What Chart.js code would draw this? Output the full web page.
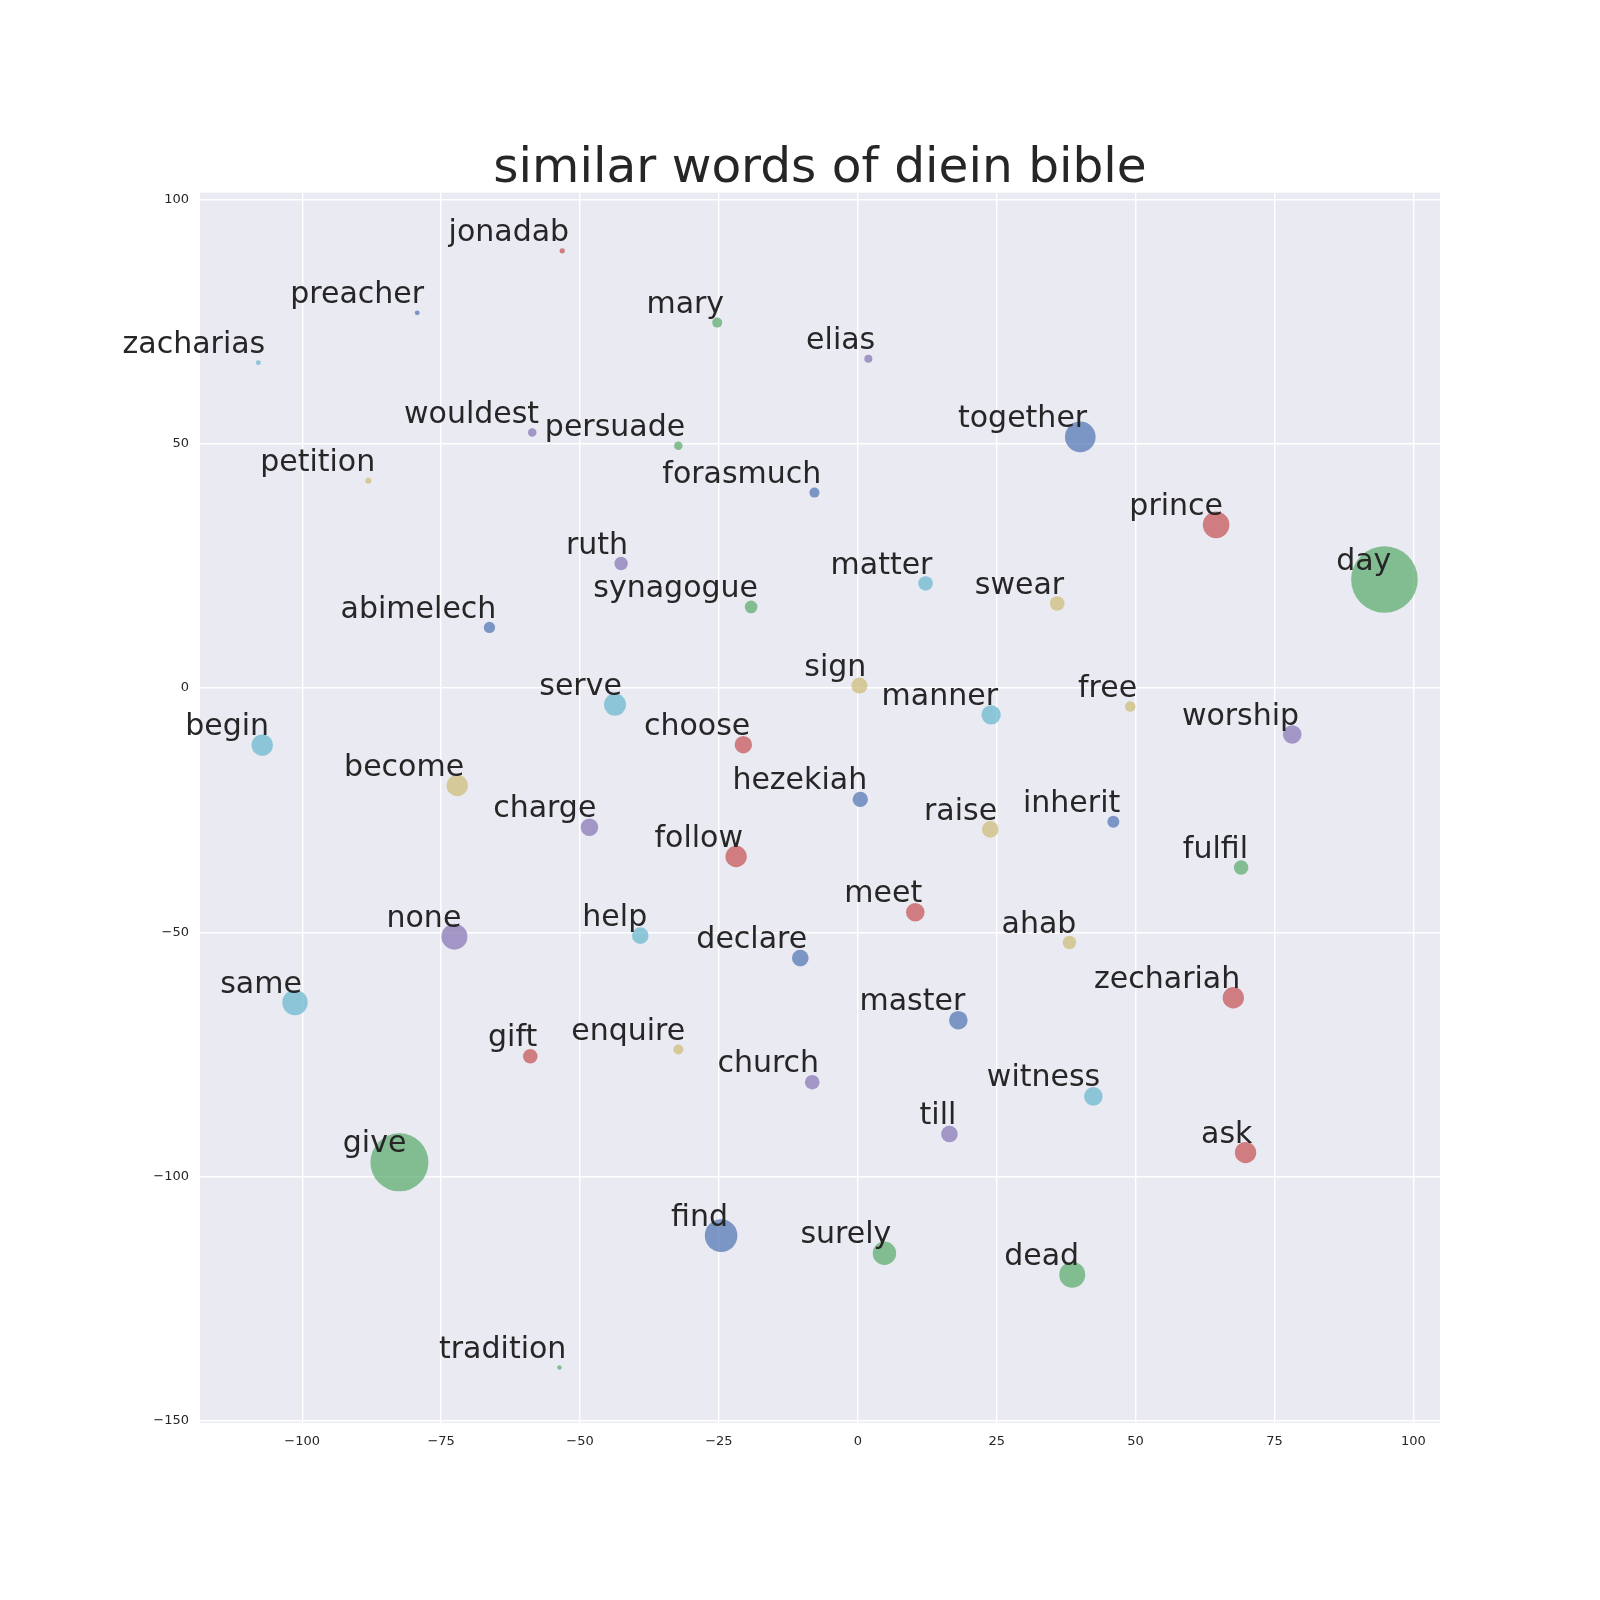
<!DOCTYPE html>
<html><head><meta charset="utf-8">
<script src="https://cdn.jsdelivr.net/npm/chart.js@4.4.1/dist/chart.umd.min.js"></script>
<style>html,body{margin:0;padding:0;background:#fff}#wrap{width:1600px;height:1600px}</style>
</head><body><div id="wrap"><canvas id="c" width="1600" height="1600"></canvas></div>
<script>
const words = [
  'preacher','mary','jonadab','elias','petition','zacharias',
  'forasmuch','persuade','prince','wouldest','swear','matter',
  'abimelech','synagogue','choose','ruth','sign','serve',
  'together','day','follow','worship','free','manner',
  'hezekiah','fulfil','meet','charge','become','begin',
  'inherit','give','zechariah','none','raise','help',
  'declare','surely','gift','church','ahab','same',
  'master','dead','ask','till','enquire','witness',
  'find','tradition'
];
const xValues = [
  -79.3,-25.3,-53.2,1.9,-88.1,-107.9,
  -7.8,-32.3,64.5,-58.6,35.9,12.2,
  -66.3,-19.2,-20.6,-42.6,0.3,-43.7,
  40.05,94.8,-21.9,78.2,49.05,24.0,
  0.45,69.0,10.35,-48.3,-72.1,-107.2,
  46.0,-82.5,67.6,-72.6,23.85,-39.15,
  -10.35,4.8,-58.95,-8.2,38.1,-101.3,
  18.1,38.6,69.8,16.5,-32.3,42.4,
  -24.6,-53.7
];
const yValues = [
  76.8,74.8,89.5,67.4,42.4,66.6,
  40.0,49.6,33.4,52.3,17.3,21.4,
  12.4,16.6,-11.6,25.5,0.5,-3.4,
  51.4,22.2,-34.5,-9.5,-3.8,-5.5,
  -22.8,-36.75,-45.9,-28.5,-19.95,-11.7,
  -27.4,-97.1,-63.4,-50.9,-28.95,-50.7,
  -55.3,-115.7,-75.4,-80.7,-52.1,-64.4,
  -68.0,-120.1,-95.1,-91.3,-74.0,-83.6,
  -112.1,-139.1
];
const counts = [
  6,25,7,16,9,6,
  25,18,177,18,53,53,
  32,40,76,45,64,121,
  234,1109,114,86,28,94,
  59,53,86,76,114,114,
  36,841,114,169,69,69,
  69,137,53,53,45,161,
  86,169,114,69,25,86,
  266,5
];
const xTicks = [-100,-75,-50,-25,0,25,50,75,100];
const yTicks = [-150,-100,-50,0,50,100];
const chartTitle = 'similar words of diein bible';

const palette = ['rgba(76,114,176,0.7)','rgba(85,168,104,0.7)','rgba(196,78,82,0.7)',
                 'rgba(129,114,178,0.7)','rgba(204,185,116,0.7)','rgba(100,181,205,0.7)'];
const FONT = '"DejaVu Sans", "Liberation Sans", sans-serif';
const fmt = v => v < 0 ? '\u2212' + Math.abs(v) : String(v);

const bgPlugin = {
  id: 'bg',
  beforeDraw(chart) {
    const a = chart.chartArea, c = chart.ctx;
    c.save(); c.fillStyle = '#EAEAF2';
    c.fillRect(a.left, a.top, a.right - a.left, a.bottom - a.top);
    c.restore();
  }
};
const labelPlugin = {
  id: 'wordLabels',
  afterDatasetsDraw(chart) {
    const c = chart.ctx, xs = chart.scales.x, ys = chart.scales.y;
    c.save();
    c.font = '30px ' + FONT;
    c.fillStyle = '#262626';
    c.textAlign = 'right';
    c.textBaseline = 'alphabetic';
    words.forEach((w, i) => {
      c.fillText(w, xs.getPixelForValue(xValues[i]) + 6.9, ys.getPixelForValue(yValues[i]) - 9.9);
    });
    c.restore();
  }
};

new Chart(document.getElementById('c'), {
  type: 'scatter',
  data: {
    datasets: [{
      data: words.map((w, i) => ({x: xValues[i], y: yValues[i]})),
      backgroundColor: words.map((w, i) => palette[i % 6]),
      borderWidth: 0,
      pointRadius: ctx => Math.sqrt(counts[ctx.dataIndex]),
      pointHoverRadius: ctx => Math.sqrt(counts[ctx.dataIndex])
    }]
  },
  options: {
    responsive: false,
    animation: false,
    events: [],
    layout: {padding: {left: 0, right: 160, top: 0, bottom: 0}},
    plugins: {
      legend: {display: false},
      tooltip: {enabled: false},
      title: {
        display: true, text: chartTitle, color: '#262626', fullSize: false,
        font: {family: FONT, size: 48.6, weight: 'normal', lineHeight: 0.96},
        padding: {top: 146, bottom: 0}
      }
    },
    scales: {
      x: {
        type: 'linear', min: -118.4, max: 104.8,
        afterBuildTicks: s => { s.ticks = xTicks.map(v => ({value: v})); },
        afterFit: s => { s.height = 177; },
        grid: {color: '#ffffff', lineWidth: 1.4, drawTicks: false},
        border: {display: false},
        ticks: {color: '#262626', font: {family: FONT, size: 13}, padding: 11, maxRotation: 0, callback: fmt}
      },
      y: {
        type: 'linear', min: -150.46, max: 101.4,
        afterBuildTicks: s => { s.ticks = yTicks.map(v => ({value: v})); },
        afterFit: s => { s.width = 200; },
        grid: {color: '#ffffff', lineWidth: 1.4, drawTicks: false},
        border: {display: false},
        ticks: {color: '#262626', font: {family: FONT, size: 13}, padding: 11, callback: fmt}
      }
    }
  },
  plugins: [bgPlugin, labelPlugin]
});
</script>
</body></html>
